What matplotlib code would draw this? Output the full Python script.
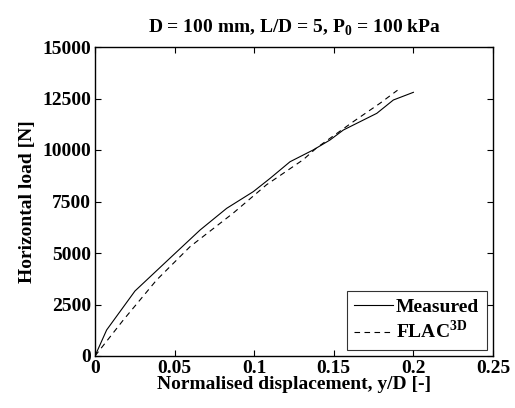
import matplotlib
matplotlib.use("Agg")
import matplotlib.pyplot as plt

meas_x = [0, 0.0073, 0.0251, 0.0492, 0.066, 0.0827, 0.0994, 0.110, 0.1225, 0.137, 0.1476, 0.156, 0.177, 0.1874, 0.200]
meas_y = [0, 1262, 3155, 4903, 6116, 7168, 7977, 8625, 9430, 10000, 10485, 10970, 11780, 12427, 12800]
flac_x = [0, 0.0178, 0.0387, 0.0597, 0.0869, 0.1078, 0.1308, 0.1391, 0.1622, 0.179, 0.1874, 0.190]
flac_y = [0, 1748, 3689, 5307, 6942, 8316, 9530, 10097, 11374, 12267, 12752, 12900]
xticks = [0, 0.05, 0.1, 0.15, 0.2, 0.25]
xtick_labels = ["0", "0.05", "0.1", "0.15", "0.2", "0.25"]
yticks = [0, 2500, 5000, 7500, 10000, 12500, 15000]
ytick_labels = ["0", "2500", "5000", "7500", "10000", "12500", "15000"]

plt.rcParams['font.family'] = ['Liberation Serif']
plt.rcParams['font.weight'] = 'bold'
plt.rcParams['axes.titleweight'] = 'bold'
plt.rcParams['axes.labelweight'] = 'bold'
plt.rcParams['mathtext.fontset'] = 'custom'
plt.rcParams['mathtext.rm'] = 'Liberation Serif:bold'
plt.rcParams['mathtext.bf'] = 'Liberation Serif:bold'

FS = 14
fig = plt.figure(figsize=(5.15, 4.08), dpi=100)
ax = fig.add_axes([95/515, 52/408, 398/515, 309/408])
ax.plot(meas_x, meas_y, 'k-', lw=0.8, label='Measured')
ax.plot(flac_x, flac_y, 'k--', lw=0.8, dashes=(5, 4), label=r'FLAC$^{\mathrm{3D}}$')
ax.set_xlim(0, 0.25)
ax.set_ylim(0, 15000)
ax.set_xticks(xticks)
ax.set_xticklabels(xtick_labels)
ax.set_yticks(yticks)
ax.set_yticklabels(ytick_labels)
ax.tick_params(direction='in', top=True, right=True, labelsize=FS, length=4, width=0.8, pad=3)
for s in ax.spines.values():
    s.set_linewidth(1.0)
ax.set_xlabel('Normalised displacement, y/D [-]', fontsize=FS, labelpad=-1)
ax.set_ylabel('Horizontal load [N]', fontsize=FS, labelpad=4)
ax.set_title(r'D = 100 mm, L/D = 5, P$_0$ = 100 kPa', fontsize=FS, pad=10)
leg = ax.legend(loc='lower right', fontsize=FS, frameon=True, fancybox=False,
                edgecolor='black', handlelength=2.0, borderpad=0.4, labelspacing=0.2,
                handletextpad=0.15, borderaxespad=0.3)
leg.get_frame().set_linewidth(0.8)
fig.savefig('out.png', dpi=100)
